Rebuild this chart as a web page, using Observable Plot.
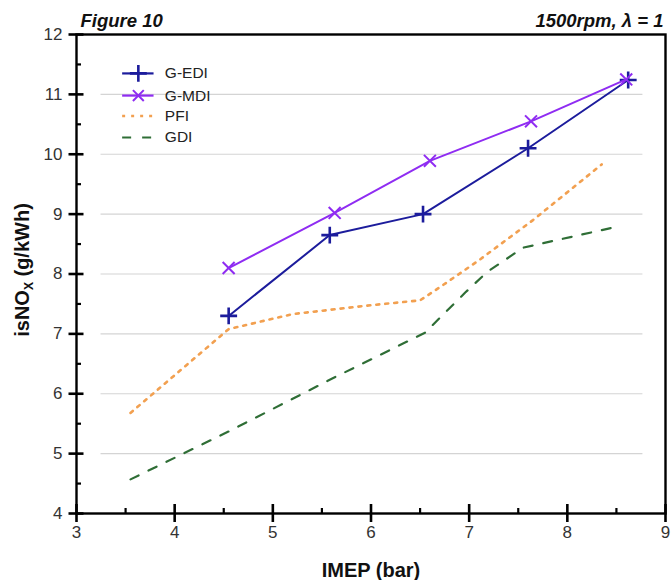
<!DOCTYPE html>
<html>
<head>
<meta charset="utf-8">
<script src="https://cdn.jsdelivr.net/npm/d3@7"></script>
<script src="https://cdn.jsdelivr.net/npm/@observablehq/plot@0.6"></script>
<style>
  html, body { margin: 0; padding: 0; background: #fff; }
  #chart svg { display: block; }
</style>
</head>
<body>
<div id="chart"></div>
<script>
// ---- data ----
const xTicks = [3, 4, 5, 6, 7, 8, 9];
const yTicks = [4, 5, 6, 7, 8, 9, 10, 11, 12];
const xMinor = [3.5, 4.5, 5.5, 6.5, 7.5, 8.5];
const yMinor = [4.5, 5.5, 6.5, 7.5, 8.5, 9.5, 10.5, 11.5];
const gridY = [5, 6, 7, 8, 9, 10, 11];

const gediX = [4.55, 5.58, 6.53, 7.6, 8.62];
const gediY = [7.3, 8.65, 9.0, 10.1, 11.24];

const gmdiX = [4.55, 5.63, 6.6, 7.63, 8.6];
const gmdiY = [8.1, 9.02, 9.89, 10.55, 11.25];

const pfiX = [3.55, 4.55, 5.2, 5.95, 6.5, 6.72, 7.1, 7.65, 8.35];
const pfiY = [5.68, 7.08, 7.33, 7.47, 7.56, 7.8, 8.23, 8.9, 9.83];

const gdiX = [3.55, 4.55, 5.6, 6.55, 6.96, 7.18, 7.55, 8.45];
const gdiY = [4.57, 5.37, 6.25, 7.02, 7.69, 8.03, 8.44, 8.77];

const seriesNames = ["G-EDI", "G-MDI", "PFI", "GDI"];
const seriesColors = ["#1c1c9c", "#8f2cf2", "#f2a050", "#2f6e36"];

const titleLeft = "Figure 10";
const titleRight = "1500rpm, \u03bb = 1";
const xLabel = "IMEP (bar)";

// ---- build tables ----
const toRows = (xs, ys) => xs.map((x, i) => ({x, y: ys[i]}));
const gedi = toRows(gediX, gediY);
const gmdi = toRows(gmdiX, gmdiY);
const pfi = toRows(pfiX, pfiY);
const gdi = toRows(gdiX, gdiY);

// legend layout (in data units inside the frame)
const legX1 = 3.47, legX2 = 3.79, legTextX = 3.9;
const legYs = [11.35, 10.98, 10.64, 10.28];
const legRows = seriesNames.map((n, i) => ({name: n, color: seriesColors[i], y: legYs[i]}));

const font = "'Liberation Sans', Arial, sans-serif";
const blank = () => "";

const chart = Plot.plot({
  width: 672,
  height: 580,
  marginLeft: 76,
  marginRight: 7,
  marginTop: 34,
  marginBottom: 67,
  style: {fontFamily: font, fontSize: "15px", color: "#222", background: "#fff"},
  x: {domain: [3, 9]},
  y: {domain: [4, 12]},
  marks: [
    Plot.ruleY(gridY, {x1: 3.25, x2: 8.77, stroke: "#d4d4d4", strokeWidth: 1.2}),
    // tick labels
    Plot.axisX({ticks: xTicks, tickSize: 0, tickPadding: 12, tickFormat: d => String(d), label: null, fontSize: 17, fill: "#333"}),
    Plot.axisY({ticks: yTicks, tickSize: 0, tickPadding: 14, tickFormat: d => String(d), label: null, fontSize: 17, fill: "#333"}),
    // major ticks crossing the axis line, minor ticks inward
    Plot.axisX({ticks: xTicks, tickSize: 18, dy: -9, tickFormat: blank, label: null, stroke: "#000", strokeWidth: 2.6}),
    Plot.axisX({ticks: xMinor, tickSize: 5, dy: -5, tickFormat: blank, label: null, stroke: "#000", strokeWidth: 2.2}),
    Plot.axisY({ticks: yTicks, tickSize: 15, dx: 7.5, tickFormat: blank, label: null, stroke: "#000", strokeWidth: 2.6}),
    Plot.axisY({ticks: yMinor, tickSize: 5, dx: 5, tickFormat: blank, label: null, stroke: "#000", strokeWidth: 2.2}),
    Plot.frame({stroke: "#000", strokeWidth: 2.4}),
    // series
    Plot.line(gdi, {x: "x", y: "y", stroke: seriesColors[3], strokeWidth: 2.2, strokeDasharray: "9,11"}),
    Plot.line(pfi, {x: "x", y: "y", stroke: seriesColors[2], strokeWidth: 2.6, strokeDasharray: "3,6"}),
    Plot.line(gedi, {x: "x", y: "y", stroke: seriesColors[0], strokeWidth: 2}),
    Plot.dot(gedi, {x: "x", y: "y", symbol: "plus", r: 5.5, stroke: seriesColors[0], strokeWidth: 2.6}),
    Plot.line(gmdi, {x: "x", y: "y", stroke: seriesColors[1], strokeWidth: 2}),
    Plot.dot(gmdi, {x: "x", y: "y", symbol: "times", r: 5.5, stroke: seriesColors[1], strokeWidth: 2}),
    // legend
    Plot.ruleY(legRows.slice(0, 2), {y: "y", x1: legX1, x2: legX2, stroke: "color", strokeWidth: 2.2}),
    Plot.ruleY(legRows.slice(2, 3), {y: "y", x1: legX1, x2: legX2, stroke: "color", strokeWidth: 2.6, strokeDasharray: "3,6"}),
    Plot.ruleY(legRows.slice(3, 4), {y: "y", x1: legX1, x2: legX2, stroke: "color", strokeWidth: 2.2, strokeDasharray: "9,11"}),
    Plot.dot(legRows.slice(0, 1), {x: (legX1 + legX2) / 2, y: "y", symbol: "plus", r: 5.5, stroke: "color", strokeWidth: 2.6}),
    Plot.dot(legRows.slice(1, 2), {x: (legX1 + legX2) / 2, y: "y", symbol: "times", r: 5, stroke: "color", strokeWidth: 2}),
    Plot.text(legRows, {x: legTextX, y: "y", text: "name", textAnchor: "start", fontSize: 15.5, fill: "#222"}),
    // titles
    Plot.text([titleLeft], {frameAnchor: "top-left", lineAnchor: "middle", dx: 4, dy: -13, text: d => d, fontSize: 18.5, fontWeight: "bold", fontStyle: "italic", textAnchor: "start", fill: "#111"}),
    Plot.text([titleRight], {frameAnchor: "top-right", lineAnchor: "middle", dx: -2, dy: -13, text: d => d, fontSize: 18.5, fontWeight: "bold", fontStyle: "italic", textAnchor: "end", fill: "#111"}),
    Plot.text([xLabel], {frameAnchor: "bottom", lineAnchor: "middle", dy: 57, text: d => d, fontSize: 20, fontWeight: "bold", fill: "#111"})
  ]
});

document.getElementById("chart").appendChild(chart);

// y-axis label with subscript
const svg = d3.select(chart);
const t = svg.append("text")
  .attr("transform", "translate(29,270) rotate(-90)")
  .attr("text-anchor", "middle")
  .attr("font-family", font)
  .attr("font-size", 20)
  .attr("font-weight", "bold")
  .attr("fill", "#111");
t.append("tspan").text("isNO");
t.append("tspan").attr("font-size", 12).attr("dy", 4).text("X");
t.append("tspan").attr("dy", -4).text(" (g/kWh)");
</script>
</body>
</html>
